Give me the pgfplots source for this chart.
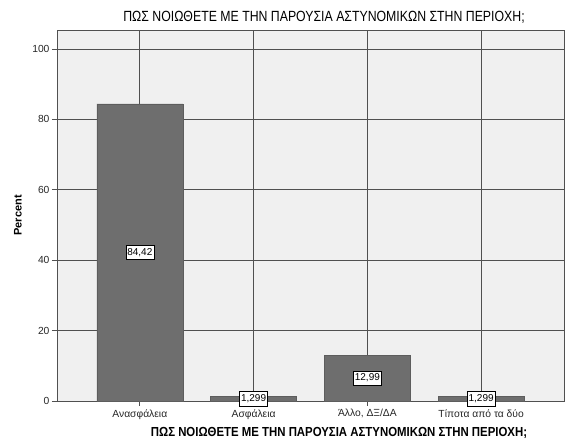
\documentclass[border=0pt]{standalone}
\usepackage{fontspec}
\setmainfont{Liberation Sans}
\usepackage{pgfplots}
\pgfplotsset{compat=1.18}

\definecolor{spssbg}{HTML}{F0F0F0}
\definecolor{spssbar}{HTML}{6E6E6E}
\definecolor{spssgrid}{HTML}{505050}

\begin{document}
\begin{tikzpicture}
  % fix the page to the reference size (565 x 439)
  \path[use as bounding box] (-57pt,-38pt) rectangle (508pt,401pt);

  \begin{axis}[
    at={(0pt,0pt)}, anchor=south west,
    scale only axis,
    width=507pt, height=371pt,
    xmin=-0.728, xmax=3.728,
    ymin=0, ymax=105.4,
    axis background/.style={fill=spssbg},
    axis line style={spssgrid, line width=0.8pt},
    xtick={0,1,2,3},
    xticklabels={{Ανασφάλεια},{Ασφάλεια},{Άλλο, ΔΞ/ΔΑ},{Τίποτα από τα δύο}},
    ytick={0,20,40,60,80,100},
    tick pos=left,
    tick align=outside,
    major tick length=5pt,
    tick style={spssgrid, line width=0.8pt},
    grid=major,
    major grid style={spssgrid, line width=0.8pt},
    ticklabel style={font=\fontsize{10.3}{12}\selectfont, text=black!85},
    yticklabel style={xshift=1pt},
    /pgf/number format/assume math mode=true,
    clip=false,
  ]
    \addplot[ybar, bar width=86pt, fill=spssbar, draw=spssbar!85!black, line width=0.5pt]
      coordinates {(0,84.42) (1,1.299) (2,12.99) (3,1.299)};

    % value labels at half the bar height
    \addplot[draw=none, mark=none, nodes near coords, point meta=explicit symbolic,
      every node near coord/.style={anchor=center, fill=white, draw=black, line width=0.5pt,
        inner xsep=1.5pt, inner ysep=3pt, font=\fontsize{10}{12}\selectfont}]
      coordinates {(0,42.21) [84,42] (1,0.65) [1,299] (2,6.495) [12,99] (3,0.65) [1,299]};
  \end{axis}

  \node[font=\bfseries\fontsize{11}{13}\selectfont, rotate=90, anchor=center] at (-39pt,185.5pt) {Percent};
  \node[font=\fontsize{12.3}{14}\selectfont, yscale=1.2, anchor=center] at (267pt,384pt)
    {ΠΩΣ ΝΟΙΩΘΕΤΕ ΜΕ ΤΗΝ ΠΑΡΟΥΣΙΑ ΑΣΤΥΝΟΜΙΚΩΝ ΣΤΗΝ ΠΕΡΙΟΧΗ;};
  \node[font=\bfseries\fontsize{11.4}{13}\selectfont, yscale=1.15, anchor=center] at (282pt,-32pt)
    {ΠΩΣ ΝΟΙΩΘΕΤΕ ΜΕ ΤΗΝ ΠΑΡΟΥΣΙΑ ΑΣΤΥΝΟΜΙΚΩΝ ΣΤΗΝ ΠΕΡΙΟΧΗ;};
\end{tikzpicture}
\end{document}
